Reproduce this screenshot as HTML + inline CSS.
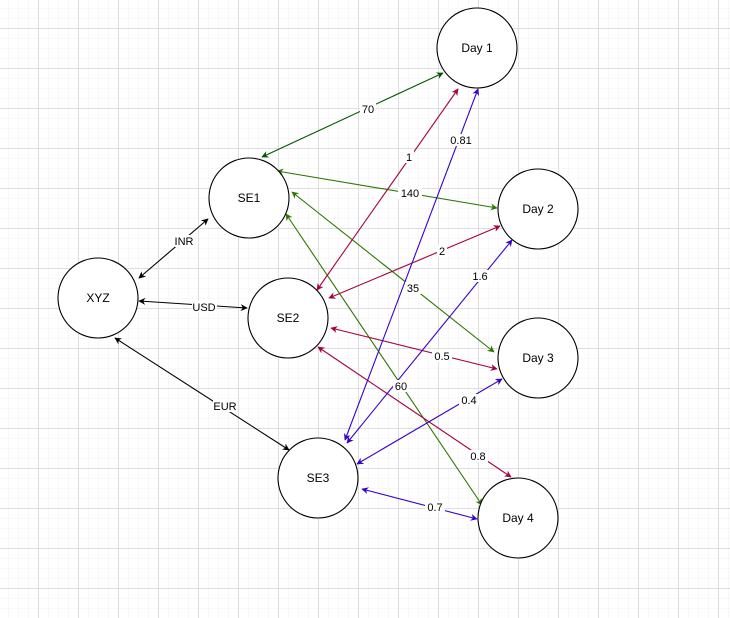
<!DOCTYPE html>
<html><head><meta charset="utf-8"><style>
html,body{margin:0;padding:0;background:#fff}
body{width:730px;height:618px;
background-image:
linear-gradient(to right,#dedede 1px,transparent 1px),
linear-gradient(to bottom,#dedede 1px,transparent 1px),
linear-gradient(to right,#f8f8f8 1px,transparent 1px),
linear-gradient(to bottom,#f8f8f8 1px,transparent 1px);
background-size:40px 40px,40px 40px,10px 10px,10px 10px;
background-position:38px 28px,38px 28px,8px 8px,8px 8px;}
svg{display:block}
text{font-family:"Liberation Sans",Arial,sans-serif;font-size:11px;fill:#000}
.n{font-size:12px}
</style></head><body>
<svg width="730" height="618" xmlns="http://www.w3.org/2000/svg">
<defs>
<marker id="k" viewBox="0 0 10 10" refX="9" refY="5" markerWidth="7" markerHeight="7" orient="auto-start-reverse" markerUnits="userSpaceOnUse"><path d="M0 0L10 5L0 10L3 5z" fill="#000"/></marker>
<marker id="g" viewBox="0 0 10 10" refX="9" refY="5" markerWidth="7" markerHeight="7" orient="auto-start-reverse" markerUnits="userSpaceOnUse"><path d="M0 0L10 5L0 10L3 5z" fill="#005700"/></marker>
<marker id="o" viewBox="0 0 10 10" refX="9" refY="5" markerWidth="7" markerHeight="7" orient="auto-start-reverse" markerUnits="userSpaceOnUse"><path d="M0 0L10 5L0 10L3 5z" fill="#2D7600"/></marker>
<marker id="r" viewBox="0 0 10 10" refX="9" refY="5" markerWidth="7" markerHeight="7" orient="auto-start-reverse" markerUnits="userSpaceOnUse"><path d="M0 0L10 5L0 10L3 5z" fill="#A50040"/></marker>
<marker id="b" viewBox="0 0 10 10" refX="9" refY="5" markerWidth="7" markerHeight="7" orient="auto-start-reverse" markerUnits="userSpaceOnUse"><path d="M0 0L10 5L0 10L3 5z" fill="#3700CC"/></marker>
</defs>

<g fill="none" stroke-width="1.1">
<line x1="139" y1="278" x2="208" y2="219" stroke="#000" marker-start="url(#k)" marker-end="url(#k)"/>
<line x1="139" y1="301" x2="247" y2="308" stroke="#000" marker-start="url(#k)" marker-end="url(#k)"/>
<line x1="115" y1="338" x2="289" y2="450" stroke="#000" marker-start="url(#k)" marker-end="url(#k)"/>

<line x1="262" y1="157" x2="443" y2="73" stroke="#005700" marker-start="url(#g)" marker-end="url(#g)"/>
<line x1="277" y1="171" x2="497" y2="208" stroke="#2D7600" marker-start="url(#o)" marker-end="url(#o)"/>
<line x1="292" y1="192" x2="494" y2="352" stroke="#2D7600" marker-start="url(#o)" marker-end="url(#o)"/>
<line x1="286" y1="214" x2="482" y2="505" stroke="#2D7600" marker-start="url(#o)" marker-end="url(#o)"/>

<line x1="317" y1="290" x2="458" y2="89" stroke="#A50040" marker-start="url(#r)" marker-end="url(#r)"/>
<line x1="329" y1="298" x2="500" y2="226" stroke="#A50040" marker-start="url(#r)" marker-end="url(#r)"/>
<line x1="331" y1="328" x2="497" y2="369" stroke="#A50040" marker-start="url(#r)" marker-end="url(#r)"/>
<line x1="318" y1="347" x2="511" y2="477" stroke="#A50040" marker-start="url(#r)" marker-end="url(#r)"/>

<line x1="345" y1="440" x2="478" y2="89" stroke="#3700CC" marker-start="url(#b)" marker-end="url(#b)"/>
<line x1="347" y1="443" x2="512" y2="240" stroke="#3700CC" marker-start="url(#b)" marker-end="url(#b)"/>
<line x1="357" y1="464" x2="502" y2="379" stroke="#3700CC" marker-start="url(#b)" marker-end="url(#b)"/>
<line x1="362" y1="489" x2="477" y2="519" stroke="#3700CC" marker-start="url(#b)" marker-end="url(#b)"/>
</g>

<g fill="#fff" stroke="#000" stroke-width="1.1">
<circle cx="98" cy="298" r="40"/>
<circle cx="249" cy="198" r="40"/>
<circle cx="288" cy="318" r="40"/>
<circle cx="318" cy="478" r="40"/>
<circle cx="477" cy="48" r="40"/>
<circle cx="538" cy="209" r="40"/>
<circle cx="538" cy="358" r="40"/>
<circle cx="518" cy="518" r="40"/>
</g>
<g text-anchor="middle">
<text x="98" y="302" class="n">XYZ</text>
<text x="249" y="202" class="n">SE1</text>
<text x="288" y="322" class="n">SE2</text>
<text x="318" y="482" class="n">SE3</text>
<text x="477" y="52" class="n">Day 1</text>
<text x="538" y="213" class="n">Day 2</text>
<text x="538" y="362" class="n">Day 3</text>
<text x="518" y="522" class="n">Day 4</text>
</g>
<g fill="#fff">
<rect x="174" y="235" width="20" height="12"/>
<rect x="192" y="301" width="25" height="12"/>
<rect x="213" y="400" width="24" height="12"/>
<rect x="360" y="103" width="16" height="12"/>
<rect x="398" y="187" width="24" height="12"/>
<rect x="405" y="282" width="16" height="12"/>
<rect x="393" y="380" width="16" height="12"/>
<rect x="404" y="151" width="10" height="12"/>
<rect x="437" y="245" width="10" height="12"/>
<rect x="432" y="350" width="20" height="12"/>
<rect x="468" y="450" width="20" height="12"/>
<rect x="450" y="134" width="22" height="12"/>
<rect x="471" y="270" width="18" height="12"/>
<rect x="459" y="394" width="20" height="12"/>
<rect x="425" y="501" width="20" height="12"/>
</g>
<g text-anchor="middle">
<text x="184" y="245">INR</text>
<text x="204" y="311">USD</text>
<text x="225" y="410">EUR</text>
<text x="368" y="113">70</text>
<text x="410" y="197">140</text>
<text x="413" y="292">35</text>
<text x="401" y="390">60</text>
<text x="409" y="161">1</text>
<text x="442" y="255">2</text>
<text x="442" y="360">0.5</text>
<text x="478" y="460">0.8</text>
<text x="461" y="144">0.81</text>
<text x="480" y="280">1.6</text>
<text x="469" y="404">0.4</text>
<text x="435" y="511">0.7</text>
</g>
</svg>
</body></html>
